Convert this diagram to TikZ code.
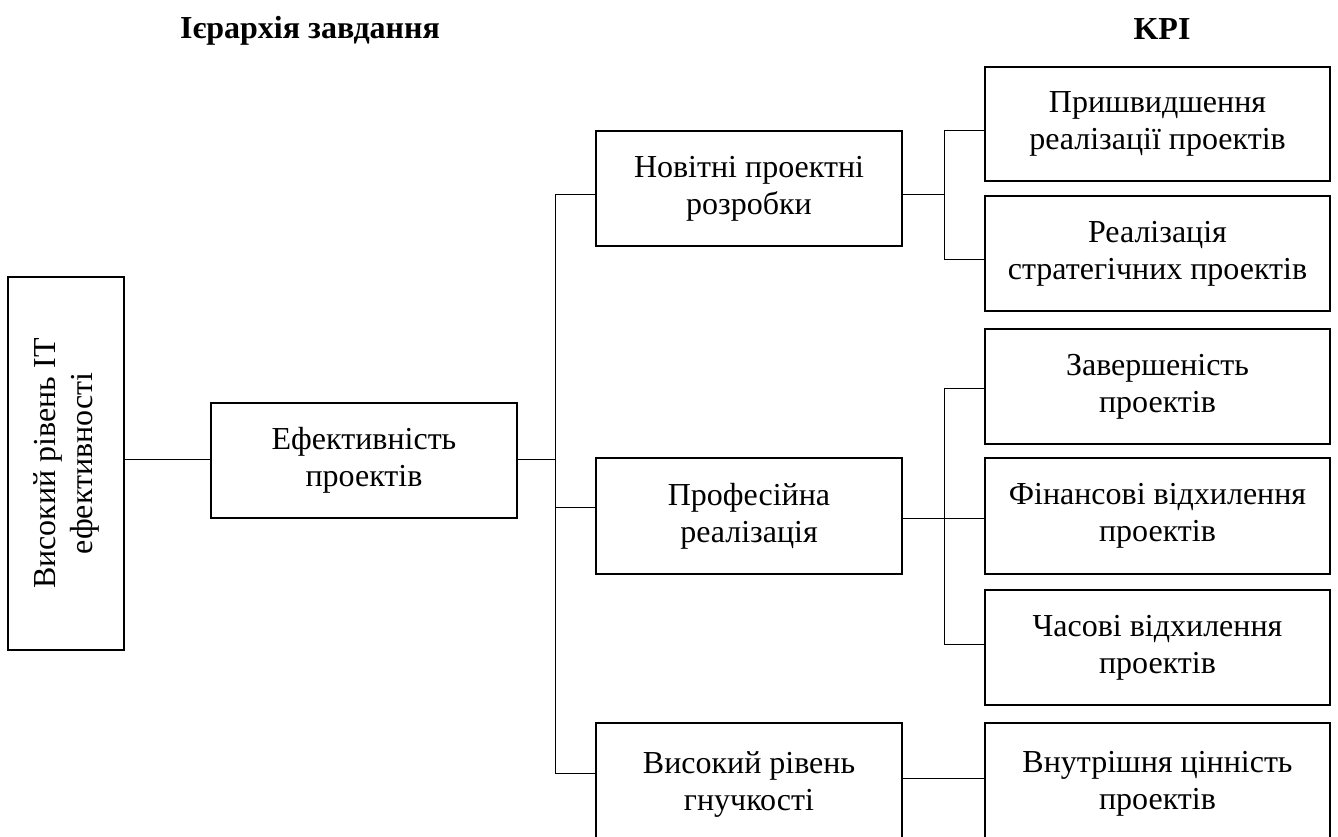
\documentclass[tikz,border=0pt]{standalone}
\usepackage{fontspec}
\setmainfont{Liberation Serif}
\begin{document}
\begin{tikzpicture}[x=1pt,y=-1pt,
  box/.style={draw, line width=2pt, align=center, inner sep=0pt,
    font=\fontsize{32}{37}\selectfont},
  conn/.style={line width=1pt},
  ttl/.style={font=\fontsize{32}{37}\selectfont\bfseries}]
\useasboundingbox (0,0) rectangle (1338,837);
\clip (0,0) rectangle (1338,837);
% titles
\node[ttl] (t1) at (310,31) {Ієрархія завдання};
\node[ttl] (t2) at (1162,29) {KPI};
% boxes
\node[box, rotate=90, minimum width=373pt, minimum height=116pt] (top) at (66,463.5) {Високий рівень IT\\ефективності};
\node[box, minimum width=306pt, minimum height=115pt] (ef) at (364,460.5) {Ефективність\\проектів};
\node[box, minimum width=306pt, minimum height=115pt] (n1) at (749,188.5) {Новітні проектні\\розробки};
\node[box, minimum width=306pt, minimum height=116pt] (n2) at (749,516) {Професійна\\реалізація};
\node[box, minimum width=306pt, minimum height=122pt] (n3) at (749,784) {Високий рівень\\гнучкості};
\node[box, minimum width=345pt, minimum height=114pt] (k1) at (1157.5,124) {Пришвидшення\\реалізації проектів};
\node[box, minimum width=345pt, minimum height=115pt] (k2) at (1157.5,253.5) {Реалізація\\стратегічних проектів};
\node[box, minimum width=345pt, minimum height=115pt] (k3) at (1157.5,386.5) {Завершеність\\проектів};
\node[box, minimum width=345pt, minimum height=116pt] (k4) at (1157.5,516) {Фінансові відхилення\\проектів};
\node[box, minimum width=345pt, minimum height=115pt] (k5) at (1157.5,647.5) {Часові відхилення\\проектів};
\node[box, minimum width=345pt, minimum height=122pt] (k6) at (1157.5,784) {Внутрішня цінність\\проектів};
% bus coordinates
\coordinate (b1e) at (555,459);
\coordinate (b1t) at (555,195);
\coordinate (b1m) at (555,507);
\coordinate (b1b) at (555,773);
\coordinate (b2t) at (944,131);
\coordinate (b2a) at (944,195);
\coordinate (b2b) at (944,259);
\coordinate (b3t) at (944,388);
\coordinate (b3b) at (944,644);
% connectors
\draw[conn] (top.south |- 0,459) -- (ef.west |- 0,459);
\draw[conn] (ef.east |- b1e) -- (b1e);
\draw[conn] (n1.west |- b1t) -- (b1t) -- (b1b) -- (n3.west |- b1b);
\draw[conn] (b1m) -- (n2.west |- b1m);
\draw[conn] (k1.west |- b2t) -- (b2t) -- (b2b) -- (k2.west |- b2b);
\draw[conn] (n1.east |- b2a) -- (b2a);
\draw[conn] (k3.west |- b3t) -- (b3t) -- (b3b) -- (k5.west |- b3b);
\draw[conn] (n2.east |- 0,518) -- (k4.west |- 0,518);
\draw[conn] (n3.east |- 0,778) -- (k6.west |- 0,778);
\end{tikzpicture}
\end{document}
